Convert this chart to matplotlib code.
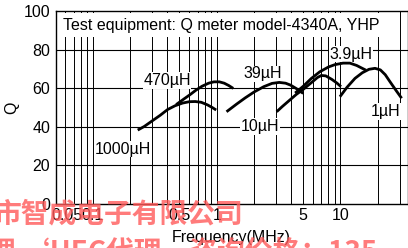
import matplotlib
matplotlib.use("Agg")
import matplotlib.pyplot as plt
import matplotlib.transforms as mtransforms

plt.rcParams['font.family'] = ['Liberation Sans', 'DejaVu Sans']

# Q vs frequency
f_1000 = [0.23, 0.26, 0.30, 0.35, 0.40, 0.46, 0.53, 0.60, 0.67, 0.75, 0.84, 0.92, 0.99]
q_1000 = [38.3, 40.2, 43.0, 46.0, 48.9, 50.9, 52.3, 53.0, 53.1, 52.7, 51.4, 50.0, 48.7]

f_470 = [0.47, 0.54, 0.61, 0.68, 0.76, 0.86, 0.95, 1.05, 1.15, 1.25, 1.36]
q_470 = [51.5, 54.3, 56.7, 59.0, 61.0, 62.6, 63.3, 63.3, 62.6, 61.4, 59.9]

f_39 = [1.2, 1.45, 1.7, 2.0, 2.4, 2.8, 3.2, 3.6, 3.95, 4.4, 5.0]
q_39 = [47.8, 51.8, 55.0, 58.0, 60.8, 62.5, 63.0, 62.6, 61.6, 59.8, 57.3]

f_10 = [3.05, 3.4, 3.9, 4.4, 5.0, 5.9, 6.5, 7.0, 7.6, 8.5, 9.3, 10.1]
q_10 = [47.8, 50.6, 53.9, 56.8, 59.4, 63.2, 65.5, 66.6, 66.4, 64.6, 62.8, 60.8]

f_3_9 = [4.3, 5.0, 5.8, 6.8, 8.0, 9.0, 10.5, 11.9, 13.5, 15.0, 16.0]
q_3_9 = [57.5, 61.0, 65.0, 68.5, 71.0, 72.2, 73.0, 73.0, 71.8, 70.3, 69.4]

f_1 = [9.9, 11.3, 13.1, 15.0, 17.0, 19.0, 21.0, 23.0, 25.1, 28.0, 31.2]
q_1 = [55.6, 60.5, 65.1, 68.0, 69.8, 70.3, 69.5, 67.0, 63.4, 59.0, 54.8]

curve_labels = ['1000\u00b5H', '470\u00b5H', '39\u00b5H', '10\u00b5H', '3.9\u00b5H', '1\u00b5H']
label_f = [0.173, 0.396, 2.34, 2.23, 12.1, 23.3]
label_q = [28.5, 64.0, 67.4, 40.2, 77.7, 47.9]

x_ticks = [0.05, 0.1, 0.5, 1, 5, 10]
x_ticklabels = ['0.05', '0.1', '0.5', '1', '5', '10']
y_ticks = [0, 20, 40, 60, 80, 100]
x_grid = [0.06, 0.07, 0.08, 0.09, 0.1, 0.2, 0.3, 0.4, 0.5, 0.6, 0.7, 0.8, 0.9,
          1, 2, 3, 4, 5, 6, 7, 8, 9, 10, 20, 30]

fig = plt.figure(figsize=(4.08, 2.48), dpi=100)
ax = fig.add_axes([0.1365, 0.1774, 0.8623, 0.7782])

ax.set_xscale('log')
ax.set_xlim(0.05, 34.8)
ax.set_ylim(0, 100)

ax.set_xticks(x_grid, minor=True)
ax.set_xticks(x_ticks)
ax.set_xticklabels(x_ticklabels)
ax.set_yticks(y_ticks)
ax.tick_params(which='both', length=0, labelsize=11.5)
ax.tick_params(axis='x', pad=3)
ax.tick_params(axis='y', pad=4)
ax.grid(False)
for xv in x_grid:
    ax.axvline(xv, color='black', lw=0.7, zorder=1)
for yv in y_ticks[1:-1]:
    ax.axhline(yv, color='black', lw=0.8, zorder=1)

# shift the 0.05 label off the axis corner like the original
lbl = ax.get_xticklabels()[0]
lbl.set_transform(lbl.get_transform() + mtransforms.ScaledTranslation(11 / 100, 0, fig.dpi_scale_trans))

for sp in ax.spines.values():
    sp.set_linewidth(1.0)

ax.set_xlabel('Frequency(MHz)', fontsize=11.5, labelpad=5)
ax.set_ylabel('Q', fontsize=11.5, labelpad=3)

ax.text(0.021, 0.927, 'Test equipment: Q meter model-4340A, YHP', transform=ax.transAxes,
        fontsize=11.5, va='center', ha='left', zorder=4,
        bbox=dict(facecolor='white', edgecolor='none', pad=3))

for name, fx, qy in zip(curve_labels, label_f, label_q):
    ax.text(fx, qy, name, fontsize=11.5, ha='center', va='center', zorder=2,
            bbox=dict(facecolor='white', edgecolor='none', pad=0.5))

for fs, qs in [(f_1000, q_1000), (f_470, q_470), (f_39, q_39),
               (f_10, q_10), (f_3_9, q_3_9), (f_1, q_1)]:
    ax.plot(fs, qs, color='black', lw=2, zorder=3, solid_capstyle='butt')

# red watermark across the bottom
wm = ['Noto Sans CJK SC', 'DejaVu Sans']
fig.text(-0.015, 1 - 214 / 248, '市智成电子有限公司', color='#ff5a5a', alpha=0.8,
         fontsize=20, fontweight='bold', family=wm, va='center', ha='left')
fig.text(-0.03, 1 - 252 / 248, '理 \u2018HEC代理，咨询价格：135', color='#ff5a5a', alpha=0.8,
         fontsize=20, fontweight='bold', family=wm, va='center', ha='left')

fig.savefig('out.png', dpi=100)
